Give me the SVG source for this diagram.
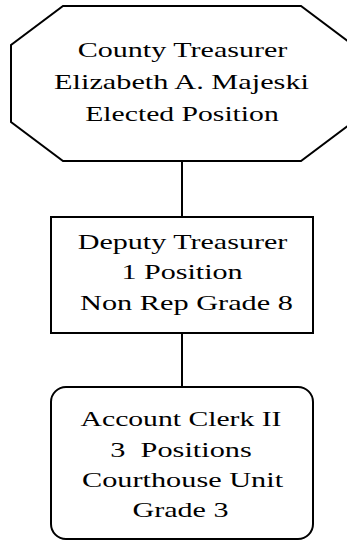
<svg xmlns="http://www.w3.org/2000/svg" width="347" height="540" viewBox="0 0 347 540">
  <style>
    .shape { fill: #ffffff; stroke: #000000; stroke-width: 2; }
    .link { stroke: #000000; stroke-width: 2; fill: none; }
    .label { font-family: "Liberation Serif", "Times New Roman", serif; font-size: 21.5px; fill: #000000; text-anchor: middle; }
  </style>
  <rect x="0" y="0" width="347" height="540" fill="#ffffff"/>

  <!-- connectors -->
  <g id="connectors">
    <line class="link" x1="182" y1="161" x2="182" y2="217"/>
    <line class="link" x1="182" y1="333" x2="182" y2="387"/>
  </g>

  <!-- County Treasurer (octagon); labels use a wide horizontal stretch -->
  <g id="county-treasurer">
    <polygon class="shape" points="63,6 301,6 353,45 353,122 301,161 63,161 11,122 11,45"/>
    <text class="label" transform="translate(182.5,57) scale(1.4,1)">County Treasurer</text>
    <text class="label" transform="translate(181.5,89) scale(1.41,1)">Elizabeth A. Majeski</text>
    <text class="label" transform="translate(182,120.5) scale(1.38,1)">Elected Position</text>
  </g>

  <!-- Deputy Treasurer -->
  <g id="deputy-treasurer">
    <rect class="shape" x="51" y="217" width="262" height="116"/>
    <text class="label" transform="translate(182.5,248.5) scale(1.4,1)">Deputy Treasurer</text>
    <text class="label" transform="translate(182,279) scale(1.4,1)">1 Position</text>
    <text class="label" transform="translate(186.5,310) scale(1.41,1)">Non Rep Grade 8</text>
  </g>

  <!-- Account Clerk II -->
  <g id="account-clerk">
    <rect class="shape" x="51" y="387" width="262" height="152" rx="15" ry="15"/>
    <text class="label" transform="translate(181,426) scale(1.38,1)">Account Clerk II</text>
    <text class="label" transform="translate(181,457) scale(1.41,1)" xml:space="preserve">3  Positions</text>
    <text class="label" transform="translate(182.5,487) scale(1.41,1)">Courthouse Unit</text>
    <text class="label" transform="translate(180.5,517) scale(1.4,1)">Grade 3</text>
  </g>
</svg>
